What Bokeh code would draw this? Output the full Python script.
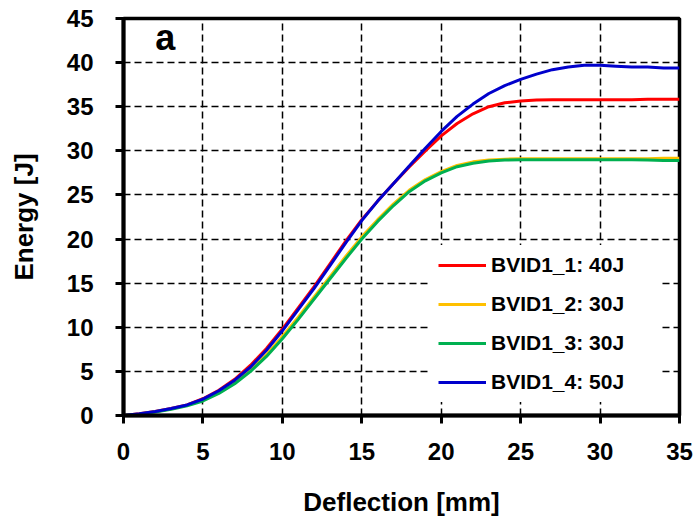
from bokeh.plotting import figure
from bokeh.models import Range1d, FixedTicker, Legend, LegendItem, Label
from bokeh.embed import file_html
from bokeh.resources import INLINE

x = [0, 1, 2, 3, 4, 5, 6, 7, 8, 9, 10, 11, 12, 13, 14, 15, 16, 17, 18, 19, 20,
     21, 22, 23, 24, 25, 26, 27, 28, 29, 30, 31, 32, 33, 34, 35]

bvid1_1 = [0, 0.2, 0.45, 0.8, 1.2, 1.9, 2.85, 4.1, 5.7, 7.6, 9.8, 12.2, 14.6, 17.2, 19.8, 22.2, 24.3,
           26.3, 28.2, 30.0, 31.7, 33.1, 34.2, 35.0, 35.45, 35.65, 35.75, 35.8, 35.8, 35.8, 35.8,
           35.8, 35.8, 35.85, 35.85, 35.85]
bvid1_2 = [0, 0.15, 0.42, 0.75, 1.15, 1.75, 2.6, 3.75, 5.15, 6.9, 8.95, 11.15, 13.45, 15.75, 18.05,
           20.25, 22.2, 24.0, 25.55, 26.75, 27.65, 28.35, 28.75, 28.95, 29.05, 29.1, 29.1, 29.1,
           29.1, 29.1, 29.1, 29.1, 29.1, 29.1, 29.15, 29.15]
bvid1_3 = [0, 0.15, 0.4, 0.7, 1.1, 1.65, 2.5, 3.6, 5.0, 6.7, 8.7, 10.9, 13.2, 15.5, 17.8, 20.0, 22.0,
           23.8, 25.4, 26.6, 27.5, 28.2, 28.6, 28.85, 28.95, 29.0, 29.0, 29.0, 29.0, 29.0, 29.0,
           29.0, 29.0, 28.95, 28.9, 28.9]
bvid1_4 = [0, 0.2, 0.45, 0.8, 1.2, 1.85, 2.8, 4.0, 5.5, 7.4, 9.6, 12.0, 14.4, 17.0, 19.6, 22.1, 24.3,
           26.3, 28.3, 30.3, 32.2, 33.9, 35.3, 36.5, 37.4, 38.1, 38.7, 39.2, 39.5, 39.7, 39.7,
           39.6, 39.5, 39.5, 39.4, 39.4]

names = ["BVID1_1: 40J", "BVID1_2: 30J", "BVID1_3: 30J", "BVID1_4: 50J"]
series = [bvid1_1, bvid1_2, bvid1_3, bvid1_4]
colors = ["#FF0000", "#FFC000", "#00B050", "#0000CC"]

x_ticks = [0, 5, 10, 15, 20, 25, 30, 35]
y_ticks = [0, 5, 10, 15, 20, 25, 30, 35, 40, 45]

FONT = "Liberation Sans"

p = figure(frame_width=556, frame_height=397,
           min_border_left=123, min_border_right=20, min_border_top=18, min_border_bottom=110,
           x_range=Range1d(0, 35), y_range=Range1d(0, 45),
           output_backend="svg", toolbar_location=None)

p.background_fill_color = "white"
p.border_fill_color = "white"
p.outline_line_color = "black"
p.outline_line_width = 3.5

renderers = []
for ys, c in zip(series, colors):
    r = p.line(x, ys, line_color=c, line_width=3)
    renderers.append(r)

for ax in (p.xaxis[0], p.yaxis[0]):
    ax.axis_line_width = 4
    ax.axis_line_color = "black"
    ax.major_tick_line_width = 3
    ax.major_tick_line_color = "black"
    ax.major_tick_out = 8
    ax.major_tick_in = 0
    ax.minor_tick_line_color = None
    ax.major_label_text_font = FONT
    ax.major_label_text_font_style = "bold"
    ax.major_label_text_font_size = "24px"
    ax.major_label_text_color = "black"
    ax.axis_label_text_font = FONT
    ax.axis_label_text_font_style = "bold"
    ax.axis_label_text_font_size = "26px"
    ax.axis_label_text_color = "black"

p.xaxis[0].ticker = FixedTicker(ticks=x_ticks)
p.yaxis[0].ticker = FixedTicker(ticks=y_ticks)
p.xaxis[0].axis_label = "Deflection [mm]"
p.yaxis[0].axis_label = "Energy [J]"
p.xaxis[0].major_label_standoff = 19
p.yaxis[0].major_label_standoff = 22
p.xaxis[0].axis_label_standoff = 24
p.yaxis[0].axis_label_standoff = 25

for g in (p.xgrid[0], p.ygrid[0]):
    g.grid_line_color = "black"
    g.grid_line_width = 1.5
    g.grid_line_dash = "7 4"

items = [LegendItem(label=n, renderers=[r]) for n, r in zip(names, renderers)]
legend = Legend(items=items, location=(307, 13), padding=8, margin=0,
                glyph_width=48, glyph_height=24, label_height=24, label_width=161,
                label_standoff=5, spacing=15,
                label_text_font=FONT, label_text_font_style="bold",
                label_text_font_size="21px", label_text_color="black",
                border_line_alpha=0, background_fill_color="white", background_fill_alpha=1)
p.add_layout(legend, "center")

p.add_layout(Label(x=2.0, y=42.8, text="a", text_font=FONT, text_font_style="bold",
                   text_font_size="36px", text_color="black", text_baseline="alphabetic"))

open("out.html", "w").write(file_html(p, INLINE))
